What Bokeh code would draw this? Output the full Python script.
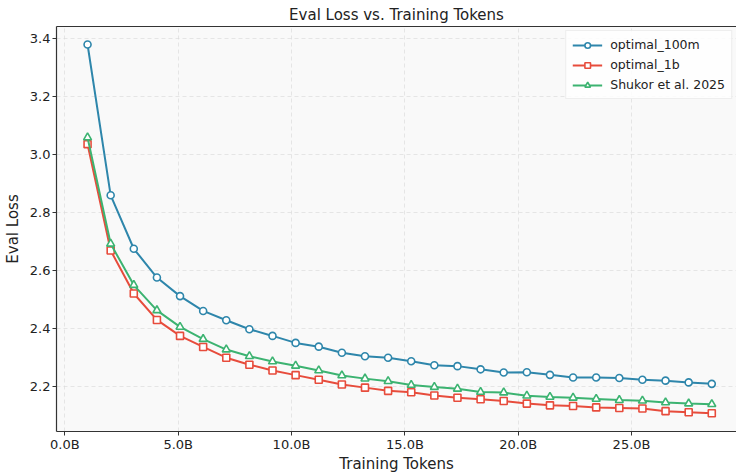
from bokeh.plotting import figure
from bokeh.models import Range1d, FixedTicker, PrintfTickFormatter, Legend, LinearAxis
from bokeh.embed import file_html
from bokeh.resources import INLINE

tokens_b = [1.00, 2.02, 3.04, 4.06, 5.08, 6.10, 7.12, 8.14, 9.16, 10.18, 11.20, 12.22, 13.24, 14.26,
            15.28, 16.30, 17.32, 18.34, 19.36, 20.38, 21.40, 22.42, 23.44, 24.46, 25.48, 26.50, 27.52, 28.54]

optimal_100m = [3.378, 2.859, 2.675, 2.576, 2.512, 2.461, 2.429, 2.398, 2.375, 2.351, 2.338, 2.317, 2.305, 2.300,
                2.288, 2.274, 2.271, 2.260, 2.249, 2.250, 2.241, 2.232, 2.232, 2.230, 2.224, 2.221, 2.215, 2.210]
optimal_1b = [3.035, 2.669, 2.521, 2.430, 2.375, 2.337, 2.300, 2.276, 2.256, 2.240, 2.224, 2.208, 2.197, 2.186,
              2.181, 2.170, 2.162, 2.157, 2.151, 2.142, 2.136, 2.134, 2.129, 2.127, 2.125, 2.116, 2.112, 2.109]
shukor_2025 = [3.058, 2.692, 2.550, 2.463, 2.406, 2.364, 2.328, 2.305, 2.287, 2.272, 2.256, 2.239, 2.228, 2.219,
               2.206, 2.199, 2.193, 2.182, 2.180, 2.169, 2.165, 2.162, 2.158, 2.154, 2.152, 2.146, 2.142, 2.140]

x_ticks = [0, 5, 10, 15, 20, 25]
y_ticks = [2.2, 2.4, 2.6, 2.8, 3.0, 3.2, 3.4]

FONT = "DejaVu Sans"

p = figure(width=736, height=475, output_backend="svg", toolbar_location=None,
           x_range=Range1d(-0.37, 29.63), y_range=Range1d(2.046, 3.44),
           min_border_left=0, min_border_right=0, min_border_top=0, min_border_bottom=0)

xax = p.below[0]
yax = p.left[0]

p.title.text = "Eval Loss vs. Training Tokens"
p.title.align = "center"
p.title.text_font = FONT
p.title.text_font_size = "15px"
p.title.text_font_style = "normal"
p.title.text_color = "#222222"
p.title.standoff = 6
p.title.offset = 0

p.background_fill_color = "#f9f9f9"
p.border_fill_color = "white"
p.outline_line_color = None

# top spine (the right spine lies beyond the cropped edge in the reference)
top_spine = LinearAxis(ticker=FixedTicker(ticks=[]), axis_line_color="#333333", axis_line_width=1.2,
                       major_tick_out=0, major_tick_in=0, minor_tick_out=0, minor_tick_in=0,
                       major_label_text_font_size="0px", major_label_standoff=0)
p.add_layout(top_spine, "above")

for ax in (xax, yax):
    ax.axis_line_color = "#333333"
    ax.axis_line_width = 1.2
    ax.major_tick_line_color = "#333333"
    ax.major_tick_in = 0
    ax.major_tick_out = 4
    ax.minor_tick_line_color = None
    ax.major_label_text_font = FONT
    ax.major_label_text_font_size = "13px"
    ax.major_label_text_color = "#222222"
    ax.axis_label_text_font = FONT
    ax.axis_label_text_font_size = "15px"
    ax.axis_label_text_font_style = "normal"
    ax.axis_label_text_color = "#222222"
    ax.major_label_standoff = 2

xax.axis_label = "Training Tokens"
yax.axis_label = "Eval Loss"
xax.axis_label_standoff = 0
xax.major_label_standoff = 1
yax.axis_label_standoff = 5
xax.ticker = FixedTicker(ticks=x_ticks)
yax.ticker = FixedTicker(ticks=y_ticks)
xax.formatter = PrintfTickFormatter(format="%.1fB")
yax.formatter = PrintfTickFormatter(format="%.1f")

p.xgrid.ticker = FixedTicker(ticks=x_ticks)
p.ygrid.ticker = FixedTicker(ticks=y_ticks)
p.grid.grid_line_color = "#d9d9d9"
p.grid.grid_line_alpha = 0.8
p.grid.grid_line_dash = "4 3"
p.grid.grid_line_width = 0.8

series = [
    ("optimal_100m", optimal_100m, "#2E86AB", "circle", 7),
    ("optimal_1b", optimal_1b, "#E74C3C", "square", 7),
    ("Shukor et al. 2025", shukor_2025, "#3CB371", "triangle", 8),
]

items = []
for name, vals, color, marker, size in series:
    r1 = p.line(tokens_b, vals, line_color=color, line_width=2)
    r2 = p.scatter(tokens_b, vals, marker=marker, size=size, fill_color="white",
                   line_color=color, line_width=1.6)
    items.append((name, [r1, r2]))

legend = Legend(items=items, location="top_right")
legend.label_text_font = FONT
legend.label_text_font_size = "12.5px"
legend.label_text_color = "#222222"
legend.background_fill_color = "white"
legend.background_fill_alpha = 0.85
legend.border_line_color = "#dddddd"
legend.border_line_width = 1
legend.glyph_width = 30
legend.glyph_height = 14
legend.spacing = 5
legend.padding = 6
legend.margin = 4
legend.label_standoff = 8
p.add_layout(legend)

open("out.html", "w").write(file_html(p, INLINE))
